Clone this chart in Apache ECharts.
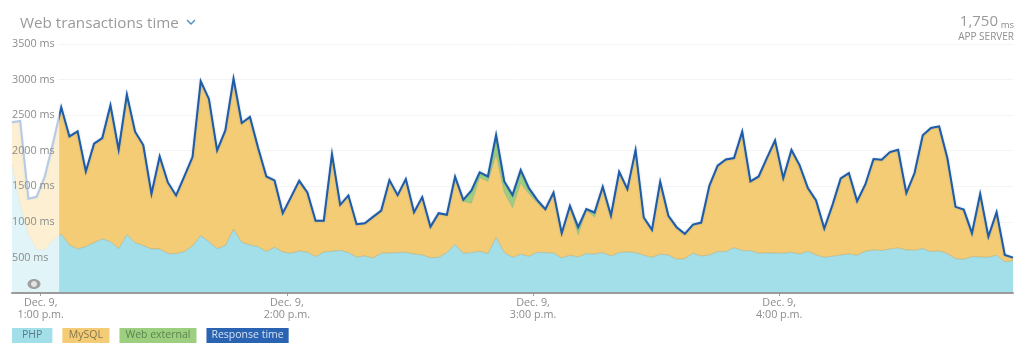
<!DOCTYPE html>
<html>
<head>
<meta charset="utf-8">
<title>Web transactions time</title>
<script src="https://cdn.jsdelivr.net/npm/echarts@6/dist/echarts.min.js"></script>
<style>
  html, body { margin: 0; padding: 0; background: #fff; }
  #chart { width: 1024px; height: 351px; }
</style>
</head>
<body>
<div id="chart"></div>
<script>
// one point every 2 minutes, minutes since midnight (12:53 p.m. is the first one)
const minutes = [773,775,777,779,781,783,785,787,789,791,793,795,797,799,801,803,805,807,809,811,813,815,817,819,821,823,825,827,829,831,833,835,837,839,841,843,845,847,849,851,853,855,857,859,861,863,865,867,869,871,873,875,877,879,881,883,885,887,889,891,893,895,897,899,901,903,905,907,909,911,913,915,917,919,921,923,925,927,929,931,933,935,937,939,941,943,945,947,949,951,953,955,957,959,961,963,965,967,969,971,973,975,977,979,981,983,985,987,989,991,993,995,997,999,1001,1003,1005,1007,1009,1011,1013,1015,1017];
const php = [1800,1240,820,610,610,740,831,676,620,652,708,761,723,624,821,708,666,620,620,554,553,582,662,807,723,624,666,897,714,676,652,582,644,577,559,592,573,511,577,587,601,568,507,521,493,559,563,568,573,549,535,497,502,568,686,559,568,587,554,784,568,502,545,517,573,568,563,493,531,507,554,549,568,521,568,577,568,531,502,545,535,475,483,559,521,535,582,582,638,596,596,559,563,563,559,573,549,587,535,502,517,535,549,531,587,606,596,620,634,606,601,624,582,592,554,483,475,511,507,502,531,441,451];
const mysql = [599,1178,504,742,1028,1368,1779,1525,1652,1057,1390,1417,1915,1390,1968,1560,1414,774,1300,1000,818,1056,1249,2169,2005,1380,1620,2117,1676,1799,1386,1056,938,545,789,985,840,503,437,1366,638,803,460,460,577,600,1024,808,1028,587,813,433,620,531,948,731,695,1038,1014,1160,845,700,1000,877,699,591,850,348,694,310,615,517,925,568,1136,883,1442,530,385,1018,550,450,348,403,469,976,1207,1296,1259,1672,972,1079,1334,1582,1056,1437,1245,887,766,404,722,1076,1137,760,939,1277,1277,1361,1380,798,1085,1592,1737,1750,1343,728,698,330,887,291,605,94,46];
const webExternal = [0,0,0,0,0,0,0,0,0,0,0,0,0,0,0,0,0,0,0,0,0,0,0,0,0,0,0,0,0,0,0,0,0,0,0,0,0,0,0,0,0,0,0,0,0,0,0,0,0,0,0,0,0,0,0,20,178,70,70,277,155,174,183,80,38,20,0,0,0,108,10,65,0,0,0,0,0,0,0,0,0,0,0,0,0,0,0,0,0,0,0,0,0,0,0,0,0,0,0,0,0,0,0,0,0,0,0,0,0,0,0,0,0,0,0,0,0,0,0,0,0,0,0];
const responseTime = [2399,2418,1324,1352,1638,2108,2610,2201,2272,1709,2098,2178,2638,2014,2789,2268,2080,1394,1920,1554,1371,1638,1911,2976,2728,2004,2286,3014,2390,2475,2038,1638,1582,1122,1348,1577,1413,1014,1014,1953,1239,1371,967,981,1070,1159,1587,1376,1601,1136,1348,930,1122,1099,1634,1310,1441,1695,1638,2221,1568,1376,1728,1474,1310,1179,1413,841,1225,925,1179,1131,1493,1089,1704,1460,2010,1061,887,1563,1085,925,831,962,990,1511,1789,1878,1897,2268,1568,1638,1897,2145,1615,2010,1794,1474,1301,906,1239,1611,1686,1291,1526,1883,1873,1981,2014,1404,1686,2216,2319,2342,1897,1211,1173,841,1394,793,1136,535,497];

const hourTicks = [780, 840, 900, 960];
const hourLabels = ['Dec. 9,\n1:00 p.m.', 'Dec. 9,\n2:00 p.m.', 'Dec. 9,\n3:00 p.m.', 'Dec. 9,\n4:00 p.m.'];
const seriesNames = ['PHP', 'MySQL', 'Web external', 'Response time'];
const seriesColors = ['#a2dfe9', '#f4cc75', '#9ccf7f', '#2a63b1'];
const legendTextColors = ['#5d7c88', '#85754c', '#5c8450', '#d3e0f4'];
const legendPadding = [[2, 10, 2, 10], [2, 6.5, 2, 6.5], [2, 6, 2, 6], [2, 5, 2, 5]];
const fadedEndIndex = 5.75; // the part before this point is washed out

const font = '"Open Sans", "Noto Sans", sans-serif';

function areaSeries(name, data) {
    const idx = seriesNames.indexOf(name);
    return {
        name: name,
        type: 'line',
        stack: 'total',
        data: data,
        showSymbol: false,
        symbol: 'none',
        z: 2,
        color: seriesColors[idx],
        lineStyle: { width: 1, color: 'rgba(120,140,120,0.35)' },
        areaStyle: { color: seriesColors[idx], opacity: 1 },
        emphasis: { disabled: true }
    };
}

let myChart = echarts.init(document.getElementById('chart'));
let option = {
    animation: false,
    backgroundColor: '#fff',
    textStyle: { fontFamily: font },
    title: {
        text: 'Web transactions time',
        left: 15, top: 11,
        textStyle: { fontFamily: font, fontSize: 15.2, fontWeight: 400, color: '#9a9a9a' }
    },
    legend: {
        left: 2, top: 323,
        itemWidth: 0, itemHeight: 0, itemGap: 5,
        selectedMode: false,
        data: seriesNames.map((name, i) => ({
            name: name,
            icon: 'none',
            textStyle: {
                fontFamily: font, fontSize: 10.5,
                color: legendTextColors[i],
                backgroundColor: seriesColors[i],
                padding: legendPadding[i]
            }
        }))
    },
    grid: { left: 12, right: 11, top: 44, bottom: 58 },
    xAxis: [
        {
            // the marks sit on this one, a point per category
            type: 'category',
            boundaryGap: false,
            data: minutes,
            axisLine: { show: false }, axisTick: { show: false }, axisLabel: { show: false },
            splitLine: { show: false }
        },
        {
            // the hour ticks do not fall on a point, so they get their own scale
            type: 'value',
            position: 'bottom',
            min: minutes[0],
            max: minutes[minutes.length - 1],
            splitLine: { show: false },
            axisLine: { show: true, onZero: false, lineStyle: { color: '#9b9b9b', width: 2 } },
            axisTick: { show: true, length: 3, customValues: hourTicks, lineStyle: { color: '#9b9b9b' } },
            axisLabel: {
                customValues: hourTicks,
                formatter: v => hourLabels[hourTicks.indexOf(v)],
                color: '#8c8c8c', fontFamily: font, fontSize: 10.8, lineHeight: 12, margin: 4
            },
            z: 8
        }
    ],
    yAxis: [
        {
            type: 'value', min: 0, max: 3500, interval: 500,
            axisLine: { show: false }, axisTick: { show: false }, axisLabel: { show: false },
            splitLine: { show: true, lineStyle: { color: '#f4f4f4', width: 1 } },
            z: 0
        },
        {
            // labels sit inside the plot, on top of the fills
            type: 'value', min: 0, max: 3500, interval: 500, position: 'left',
            axisLine: { show: false }, axisTick: { show: false }, splitLine: { show: false },
            axisLabel: {
                inside: true, margin: 0,
                formatter: v => (v === 0 ? '' : v + ' ms'),
                color: '#8c8c8c', fontFamily: font, fontSize: 10.8
            },
            z: 10
        }
    ],
    series: [
        areaSeries('PHP', php),
        areaSeries('MySQL', mysql),
        areaSeries('Web external', webExternal),
        {
            name: 'Response time',
            type: 'line',
            data: responseTime,
            showSymbol: false,
            symbol: 'none',
            z: 4,
            color: seriesColors[3],
            lineStyle: { width: 2, color: '#1f5ca8', join: 'miter', shadowColor: 'rgba(31,92,168,0.3)', shadowBlur: 2 },
            emphasis: { disabled: true }
        },
        {
            // empty series on the value scale, only carries the washed out band
            name: 'faded',
            type: 'line',
            xAxisIndex: 1,
            data: [],
            z: 6,
            markArea: {
                silent: true,
                z: 6,
                itemStyle: { color: 'rgba(255,255,255,0.68)' },
                data: [[{ xAxis: minutes[0], yAxis: 0 }, { xAxis: minutes[0] + fadedEndIndex * 2, yAxis: 3500 }]]
            }
        }
    ],
    graphic: [
        { type: 'polyline', z: 20, shape: { points: [[187, 20], [191, 24], [195, 20]] }, style: { stroke: '#4a90c8', lineWidth: 1.4, fill: null } },
        { type: 'text', z: 20, x: 998, y: 22, style: { text: '1,750', fontFamily: font, fontSize: 15, fill: '#9a9a9a', align: 'right', verticalAlign: 'middle' } },
        { type: 'text', z: 20, x: 1014, y: 25, style: { text: 'ms', fontFamily: font, fontSize: 9.5, fill: '#8a8a8a', align: 'right', verticalAlign: 'middle' } },
        { type: 'text', z: 20, x: 1014, y: 37, style: { text: 'APP SERVER', fontFamily: font, fontSize: 10, fill: '#8f8f8f', align: 'right', verticalAlign: 'middle' } },
        { type: 'ellipse', z: 20, shape: { cx: 34, cy: 284, rx: 6.5, ry: 5 }, style: { fill: '#a0a0a0' } },
        { type: 'ellipse', z: 21, shape: { cx: 34, cy: 284, rx: 3, ry: 3 }, style: { fill: '#e4e4e4' } }
    ]
};
myChart.setOption(option);
</script>
</body>
</html>
